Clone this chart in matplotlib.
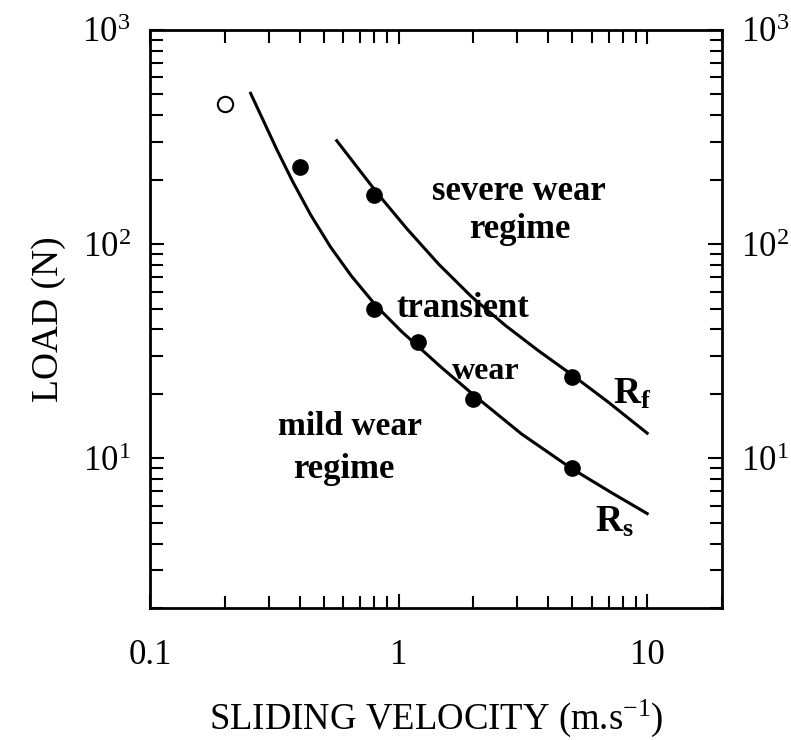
import matplotlib
matplotlib.use('Agg')
import matplotlib.pyplot as plt

plt.rcParams['font.family'] = ['Liberation Serif', 'DejaVu Serif']
plt.rcParams['mathtext.fontset'] = 'custom'
plt.rcParams['mathtext.rm'] = 'Liberation Serif'
plt.rcParams['mathtext.it'] = 'Liberation Serif:italic'
plt.rcParams['mathtext.bf'] = 'Liberation Serif:bold'

# points mesurés (vitesse m/s, charge N)
open_v = [0.2]
open_load = [450]
filled_v = [0.4, 0.8, 0.8, 1.2, 2, 5, 5]
filled_load = [230, 170, 50, 35, 19, 24, 9]

# courbe Rs (transition douce -> transitoire)
rs_v = [0.254, 0.282, 0.324, 0.375, 0.443, 0.533, 0.647, 0.816, 1.03,
        1.49, 2.0, 3.12, 4.95, 7.17, 10]
rs_load = [506, 390, 276, 196, 137, 96.8, 70.8, 51.2, 39.0,
           26.5, 19.8, 13.0, 8.98, 6.92, 5.52]

# courbe Rf (transition transitoire -> sévère)
rf_v = [0.564, 0.824, 1.08, 1.45, 1.96, 2.69, 3.65, 5.04, 6.97, 10]
rf_load = [304, 172, 118, 80.6, 57.0, 41.7, 31.8, 24.3, 18.3, 13.1]

x_ticks = [0.1, 1, 10]
x_labels = ['0.1', '1', '10']
y_ticks = [10, 100, 1000]
y_labels = ['$10^1$', '$10^2$', '$10^3$']

fig = plt.figure(figsize=(7.91, 7.40), dpi=100)
ax = fig.add_axes([0.1896, 0.1784, 0.7232, 0.7811])

ax.plot(rs_v, rs_load, color='black', lw=2.2)
ax.plot(rf_v, rf_load, color='black', lw=2.2)
ax.plot(filled_v, filled_load, 'o', color='black', ms=11)
ax.plot(open_v, open_load, 'o', mfc='white', mec='black', mew=1.5, ms=11)

ax.set_xscale('log')
ax.set_yscale('log')
ax.set_xlim(0.1, 20)
ax.set_ylim(2, 1000)

ax.set_xticks(x_ticks)
ax.set_xticklabels(x_labels)
ax.set_yticks(y_ticks)
ax.set_yticklabels(y_labels)

ax.tick_params(which='both', direction='in', top=True, right=True,
               labelright=True, width=1.5)
ax.tick_params(which='major', length=10, labelsize=25)
ax.tick_params(axis='x', which='major', pad=22)
ax.tick_params(axis='y', which='major', pad=14)
ax.tick_params(which='minor', length=9)
for s in ax.spines.values():
    s.set_linewidth(2)

ax.set_xlabel('SLIDING VELOCITY (m.s$^{-1}$)', fontsize=26.5, labelpad=19)
ax.set_ylabel('LOAD (N)', fontsize=27, labelpad=12)

txt = dict(fontsize=25, fontweight='bold', ha='center', va='center')
ax.text(3.06, 177, 'severe wear', **txt)
ax.text(3.06, 117, 'regime', **txt)
ax.text(1.82, 50, 'transient', **txt)
ax.text(2.24, 25.5, 'wear', fontsize=23, fontweight='bold', ha='center', va='center')
ax.text(0.64, 14, 'mild wear', fontsize=24, fontweight='bold', ha='center', va='center')
ax.text(0.6, 8.9, 'regime', **txt)
ax.text(8.7, 19.8, r'$\mathbf{R_f}$', fontsize=27, ha='center', va='center')
ax.text(7.4, 5.0, r'$\mathbf{R_s}$', fontsize=27, ha='center', va='center')

plt.savefig('out.png', dpi=100)
